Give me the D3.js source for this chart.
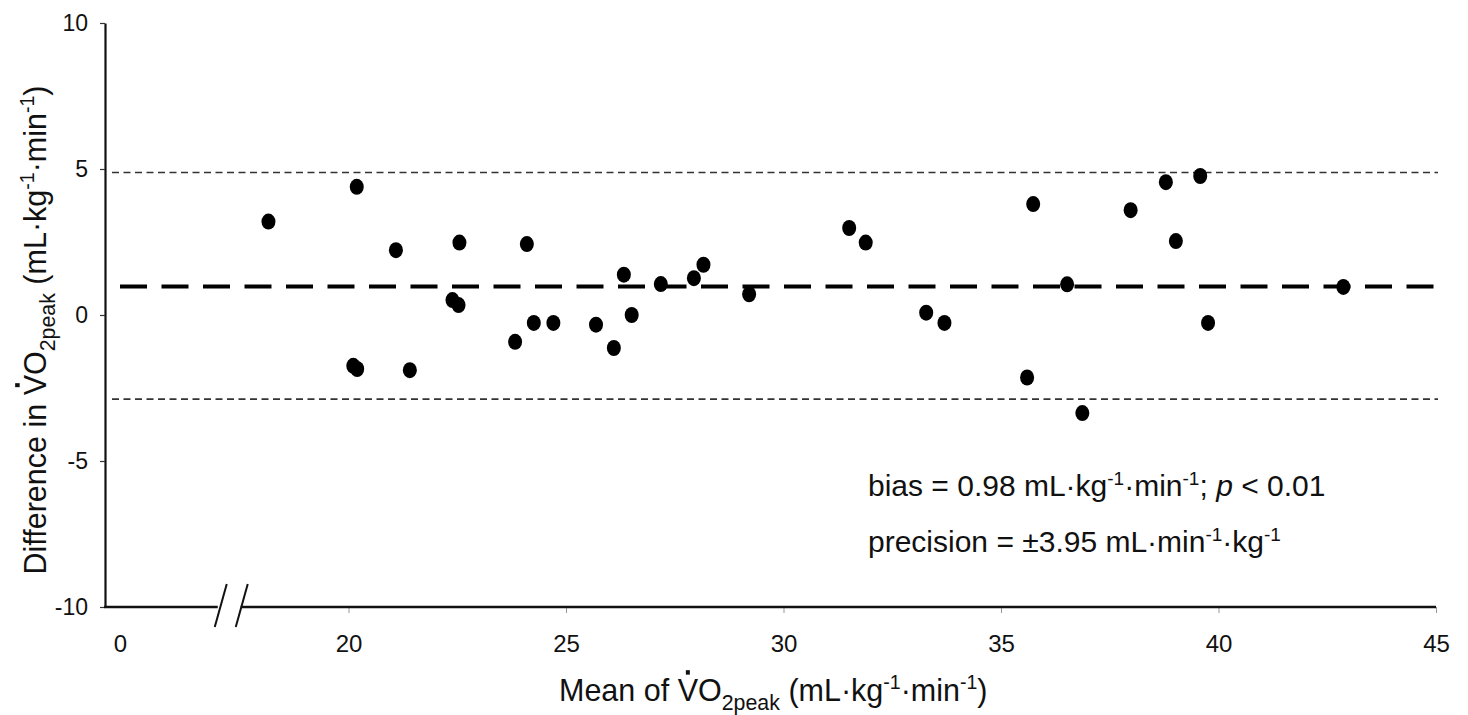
<!DOCTYPE html>
<html>
<head>
<meta charset="utf-8">
<script src="https://cdn.jsdelivr.net/npm/d3@7"></script>
<style>
  body { margin: 0; background: #fff; }
  svg { display: block; font-family: "Liberation Sans", Arial, sans-serif; }
</style>
</head>
<body>
<svg id="chart" width="1468" height="715"></svg>
<script>
// Bland-Altman data: mean of the two VO2peak values vs their difference
const meanValues = [18.16, 20.11, 20.19, 20.20, 21.09, 21.41, 22.39, 22.53, 22.55, 23.83,
                    24.10, 24.26, 24.71, 25.69, 26.10, 26.33, 26.51, 27.18, 27.94, 28.16,
                    29.21, 31.51, 31.89, 33.28, 33.70, 35.60, 35.74, 36.52, 36.87, 37.98,
                    38.79, 39.02, 39.58, 39.76, 42.87];
const diffValues = [3.20, -1.74, 4.39, -1.85, 2.22, -1.89, 0.51, 0.34, 2.48, -0.92,
                    2.43, -0.27, -0.27, -0.33, -1.13, 1.38, 0.00, 1.06, 1.26, 1.72,
                    0.71, 2.98, 2.48, 0.08, -0.27, -2.14, 3.80, 1.05, -3.36, 3.59,
                    4.55, 2.53, 4.76, -0.27, 0.96];
const bias = 0.98;
const limits = [4.88, -2.88];
const xTicks = [0, 20, 25, 30, 35, 40, 45];
const yTicks = [10, 5, 0, -5, -10];

const svg = d3.select("#chart");

// broken x axis: 0 sits just right of the y axis, the real scale starts at the break
const x = d3.scaleLinear()
    .domain([-1.3, 0, 17.5, 45])
    .range([105, 120, 239.75, 1436]);
const y = d3.scaleLinear()
    .domain([-10, 10])
    .range([607, 23]);

const data = meanValues.map((m, i) => ({ mean: m, diff: diffValues[i] }));

// y axis
const yAxis = svg.append("g")
    .attr("transform", `translate(${x(-1.3)},0)`)
    .call(d3.axisLeft(y).tickValues(yTicks).tickSize(5).tickSizeOuter(0).tickPadding(12)
        .tickFormat(d3.format("d")));
yAxis.select(".domain").attr("stroke", "#111").attr("stroke-width", 2.2);
yAxis.selectAll(".tick line").attr("stroke", "#333").attr("stroke-width", 1.2);
yAxis.selectAll("text").style("font-size", "23px").attr("fill", "#111")
    .text(d => d < 0 ? "-" + Math.abs(d) : d);

// x axis (ticks and labels only, the line is drawn in two pieces below)
const xAxis = svg.append("g")
    .attr("transform", `translate(0,${y(-10)})`)
    .call(d3.axisBottom(x).tickValues(xTicks).tickSize(6).tickSizeOuter(0).tickPadding(22));
xAxis.select(".domain").remove();
xAxis.selectAll(".tick line").attr("stroke", "#999").attr("stroke-width", 1)
    .filter(d => d === 0).remove();
xAxis.selectAll("text").style("font-size", "24px").attr("fill", "#111");

const xb = x(17.5);
const axisY = y(-10);
svg.append("line")
    .attr("x1", x(-1.3) - 1).attr("x2", xb - 22)
    .attr("y1", axisY).attr("y2", axisY)
    .attr("stroke", "#111").attr("stroke-width", 2.4);
svg.append("line")
    .attr("x1", xb + 1).attr("x2", x(45))
    .attr("y1", axisY).attr("y2", axisY)
    .attr("stroke", "#111").attr("stroke-width", 2.4);
// break marks
[-25, -4].forEach(off => {
    svg.append("line")
        .attr("x1", xb + off).attr("y1", axisY + 20)
        .attr("x2", xb + off + 12).attr("y2", axisY - 23)
        .attr("stroke", "#111").attr("stroke-width", 2);
});

// limits of agreement
limits.forEach(v => {
    svg.append("line")
        .attr("x1", x(-1.3) + 7).attr("x2", x(45) + 2)
        .attr("y1", y(v)).attr("y2", y(v))
        .attr("stroke", "#333").attr("stroke-width", 1.6)
        .attr("stroke-dasharray", "7,4.5");
});

// bias line
svg.append("line")
    .attr("x1", x(0)).attr("x2", x(45) + 2)
    .attr("y1", y(bias)).attr("y2", y(bias))
    .attr("stroke", "#000").attr("stroke-width", 4)
    .attr("stroke-dasharray", "27,14.5");

// points
svg.append("g")
    .selectAll("ellipse")
    .data(data)
    .join("ellipse")
    .attr("cx", d => x(d.mean))
    .attr("cy", d => y(d.diff))
    .attr("rx", 7)
    .attr("ry", 8)
    .attr("fill", "#000");

// text helpers
function unitParts(t, size) {
    const small = size * 0.64;
    t.append("tspan").text("(mL·kg");
    t.append("tspan").attr("dy", -size * 0.38).style("font-size", small + "px").text("-1");
    t.append("tspan").attr("dy", size * 0.38).text("·min");
    t.append("tspan").attr("dy", -size * 0.38).style("font-size", small + "px").text("-1");
    t.append("tspan").attr("dy", size * 0.38).text(")");
}

function vo2Title(g, prefix, size) {
    const t = g.append("text").style("font-size", size + "px").attr("fill", "#111");
    t.append("tspan").text(prefix + "VO");
    t.append("tspan").attr("dy", size * 0.3).style("font-size", (size * 0.7) + "px").text("2peak");
    t.append("tspan").attr("dy", -size * 0.3).text(" ");
    unitParts(t, size);
    // the dot over the V
    const ext = t.node().getExtentOfChar(prefix.length);
    g.append("rect")
        .attr("x", ext.x + ext.width / 2 - 2)
        .attr("y", -size * 0.716 - 9)
        .attr("width", 4).attr("height", 4.5)
        .attr("fill", "#111");
    return t;
}

// x title
const xTitle = svg.append("g").attr("transform", "translate(559,701)");
vo2Title(xTitle, "Mean of ", 30.5);

// y title
const yTitle = svg.append("g").attr("transform", "translate(46,330) rotate(-90)");
const yt = vo2Title(yTitle, "Difference in ", 30.5);
const ytw = yt.node().getComputedTextLength();
yTitle.attr("transform", `translate(46,${330 + ytw / 2}) rotate(-90)`);

// annotation
const ann = svg.append("g").style("font-size", "30px").attr("fill", "#111");
const a1 = ann.append("text").attr("x", 868).attr("y", 496);
a1.append("tspan").text("bias = 0.98 mL·kg");
a1.append("tspan").attr("dy", -11).style("font-size", "19px").text("-1");
a1.append("tspan").attr("dy", 11).text("·min");
a1.append("tspan").attr("dy", -11).style("font-size", "19px").text("-1");
a1.append("tspan").attr("dy", 11).text("; ");
a1.append("tspan").style("font-style", "italic").text("p");
a1.append("tspan").text(" < 0.01");

const a2 = ann.append("text").attr("x", 868).attr("y", 552);
a2.append("tspan").text("precision = ±3.95 mL·min");
a2.append("tspan").attr("dy", -11).style("font-size", "19px").text("-1");
a2.append("tspan").attr("dy", 11).text("·kg");
a2.append("tspan").attr("dy", -11).style("font-size", "19px").text("-1");
</script>
</body>
</html>
